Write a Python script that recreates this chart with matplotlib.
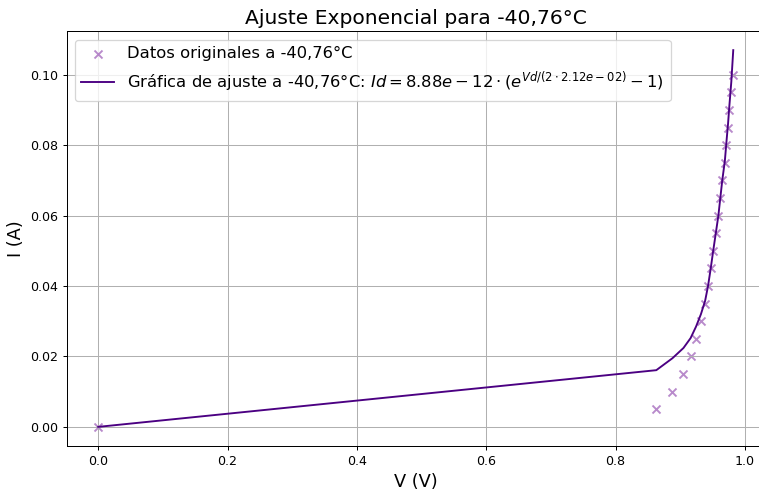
import matplotlib
matplotlib.use("Agg")
import matplotlib.pyplot as plt

# Measured diode points at -40,76 °C
voltage = [0.0, 0.863, 0.888, 0.905, 0.916, 0.9245, 0.932, 0.9385, 0.943, 0.947,
           0.951, 0.955, 0.959, 0.962, 0.965, 0.969, 0.9715, 0.974, 0.976, 0.979, 0.982]
current = [0.0, 0.005, 0.010, 0.015, 0.020, 0.025, 0.030, 0.035, 0.040, 0.045,
           0.050, 0.055, 0.060, 0.065, 0.070, 0.075, 0.080, 0.085, 0.090, 0.095, 0.100]
# Fitted curve evaluated at the same voltages
current_fit = [0.0, 0.0161, 0.0195, 0.0224, 0.0252, 0.0285, 0.0320, 0.0358, 0.0400, 0.0448,
               0.0500, 0.0550, 0.0600, 0.0650, 0.0700, 0.0755, 0.0810, 0.0862, 0.0912, 0.0980, 0.1070]

title = "Ajuste Exponencial para -40,76°C"
label_data = "Datos originales a -40,76°C"
label_fit = (r"Gráfica de ajuste a -40,76°C: "
             r"$Id = 8.88e-12 \cdot (e^{Vd/(2 \cdot 2.12e-02)} - 1)$")

DPI = 91
W, H = 759, 493
fig = plt.figure(figsize=(W / DPI, H / DPI), dpi=DPI)
ax = fig.add_axes([66.5 / W, (H - 445.7) / H, (765 - 66.5) / W, (445.7 - 31.3) / H])

ax.scatter(voltage, current, marker="x", color="#9B59B6", alpha=0.7, s=40, label=label_data)
ax.plot(voltage, current_fit, color="#4B0082", linewidth=1.5, label=label_fit)

ax.set_title(title, fontsize=16)
ax.set_xlabel("V (V)", fontsize=14)
ax.set_ylabel("I (A)", fontsize=14)
ax.grid(True)
ax.legend(fontsize=13, loc="upper left")

fig.savefig("out.png", dpi=DPI)
